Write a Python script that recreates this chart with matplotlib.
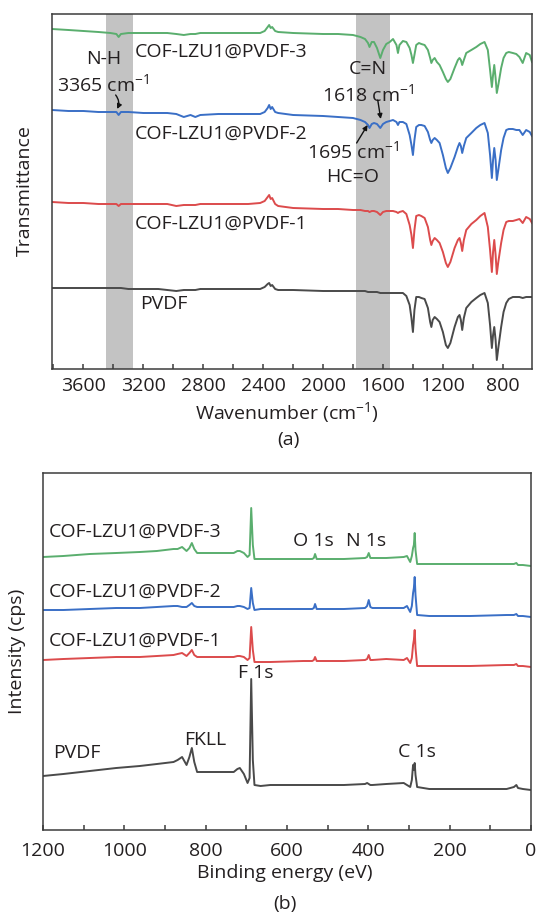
import matplotlib
matplotlib.use("Agg")
import matplotlib.pyplot as plt
from matplotlib.ticker import MultipleLocator

# ---------------- FTIR spectra (panel a) ----------------
wavenumber = [3810, 3700, 3600, 3500, 3420, 3380, 3365, 3350, 3300, 3200, 3100, 3040,
              2980, 2930, 2885, 2853, 2820, 2700, 2500, 2420,
              2390, 2370, 2360, 2350, 2340, 2320, 2300,
              2200, 2000, 1900, 1800, 1750, 1720, 1700, 1690,
              1675, 1660, 1640, 1618, 1600, 1578, 1555, 1533, 1510, 1500,
              1490, 1467, 1444, 1422, 1410, 1400, 1390, 1378, 1360, 1344,
              1322, 1300, 1285, 1277, 1268, 1255, 1240, 1222, 1200, 1180,
              1167, 1150, 1122, 1100, 1089, 1080, 1071, 1060, 1044, 1010,
              977, 950, 922, 900, 885, 873, 865, 857, 848, 840,
              830, 811, 795, 777, 760, 733, 710, 689, 667, 644, 620, 605]

ftir_pvdf3 = [340, 339, 338, 337, 336, 335, 332, 335, 336, 336, 336, 336,
              335, 334, 335, 335, 336, 336, 336, 336,
              338, 342, 344, 341, 342, 338, 337,
              336, 335, 335, 334, 332, 330, 326, 322,
              327, 327, 321, 311, 319, 325, 327, 330, 324, 316,
              324, 328, 327, 321, 314, 306, 314, 324, 326, 325,
              324, 319, 311, 306, 309, 311, 307, 304, 297, 290,
              287, 290, 301, 309, 311, 309, 304, 309, 316, 319,
              322, 325, 327, 319, 299, 282, 294, 304, 291, 276,
              284, 301, 311, 316, 317, 316, 315, 312, 306, 316, 314, 307]

ftir_pvdf2 = [259, 258, 258, 257, 257, 257, 254, 257, 257, 256, 256, 256,
              255, 252, 254, 252, 254, 255, 255, 255,
              257, 261, 264, 260, 262, 257, 256,
              254, 253, 252, 251, 249, 247, 244, 241,
              245, 246, 245, 241, 245, 247, 248, 249, 247, 244,
              247, 247, 245, 234, 224, 214, 229, 242, 244, 244,
              243, 237, 229, 226, 229, 231, 229, 226, 214, 201,
              196, 201, 212, 222, 226, 223, 216, 223, 231, 236,
              241, 244, 246, 236, 214, 191, 209, 221, 209, 189,
              199, 219, 231, 239, 240, 240, 239, 239, 234, 239, 237, 233]

ftir_pvdf1 = [167, 166, 166, 165, 165, 165, 163, 165, 165, 165, 165, 165,
              163, 164, 164, 164, 165, 165, 165, 166,
              168, 172, 174, 170, 171, 165, 163,
              161, 160, 160, 159, 159, 158, 158, 157,
              158, 158, 157, 154, 157, 158, 158, 158, 157, 156,
              157, 158, 155, 144, 134, 121, 139, 153, 154, 153,
              151, 142, 129, 124, 128, 131, 129, 126, 117, 106,
              102, 107, 121, 129, 131, 126, 118, 129, 139, 145,
              149, 153, 156, 142, 119, 97, 117, 129, 114, 95,
              107, 126, 139, 147, 148, 148, 149, 150, 146, 152, 150, 146]

ftir_pvdf = [81, 81, 81, 81, 81, 81, 81, 81, 80, 80, 80, 79,
             78, 79, 79, 79, 80, 80, 80, 80,
             82, 85, 86, 83, 84, 80, 79,
             79, 78, 78, 78, 78, 78, 77, 77,
             77, 77, 77, 76, 76, 76, 76, 76, 76, 76,
             76, 76, 73, 64, 51, 37, 59, 72, 72, 71,
             70, 61, 47, 42, 49, 52, 50, 47, 37, 24,
             21, 26, 42, 52, 54, 49, 39, 51, 61, 67,
             71, 74, 76, 66, 44, 21, 34, 42, 29, 9,
             21, 42, 57, 66, 70, 72, 72, 72, 71, 72, 72, 72]

# shaded absorption bands (cm-1)
nh_band = (3450, 3270)
cn_band = (1780, 1555)

# ---------------- XPS survey spectra (panel b) ----------------
binding_energy = [1200, 1150, 1085, 1020, 962, 920, 879, 869, 858, 847,
                  840, 834, 828, 821, 800, 760, 731, 722, 716, 706,
                  697, 692, 688, 684, 680, 665, 641, 560, 538, 534,
                  531, 527, 522, 460, 408, 403, 399, 395, 390, 356,
                  313, 305, 297, 293, 290, 288, 286, 284, 280, 250,
                  150, 60, 42, 36, 32, 20, 0]

xps_pvdf3 = [273, 274, 276, 277, 278, 279, 281, 281, 283, 279,
             282, 287, 281, 277, 277, 277, 277, 279, 279, 277,
             273, 275, 322, 285, 271, 271, 271, 271, 271, 272,
             276, 271, 271, 271, 272, 273, 277, 272, 272, 272,
             273, 274, 268, 274, 282, 285, 297, 280, 266, 266,
             266, 266, 266, 267, 265, 265, 264]

xps_pvdf2 = [220, 220, 221, 222, 222, 223, 224, 224, 223, 223,
             225, 227, 224, 223, 223, 223, 223, 224, 224, 223,
             221, 222, 242, 227, 220, 221, 221, 221, 221, 222,
             226, 221, 221, 221, 222, 224, 230, 223, 222, 222,
             222, 224, 218, 224, 237, 242, 253, 235, 215, 214,
             214, 215, 215, 216, 214, 214, 213]

xps_pvdf1 = [170, 171, 172, 173, 173, 174, 175, 176, 177, 174,
             177, 180, 175, 173, 173, 173, 173, 174, 174, 173,
             170, 172, 203, 180, 168, 168, 168, 169, 169, 170,
             173, 169, 169, 169, 170, 171, 175, 170, 170, 171,
             170, 172, 167, 172, 185, 190, 200, 182, 164, 164,
             164, 165, 165, 166, 164, 164, 163]

xps_pvdf = [54, 56, 59, 62, 64, 66, 68, 70, 73, 65,
            73, 82, 68, 58, 58, 58, 58, 61, 62, 56,
            47, 52, 151, 70, 45, 44, 45, 45, 45, 45,
            45, 45, 45, 45, 46, 47, 46, 45, 45, 46,
            47, 45, 43, 50, 65, 60, 67, 55, 43, 41,
            41, 41, 43, 45, 42, 41, 40]

sample_labels = ["COF-LZU1@PVDF-3", "COF-LZU1@PVDF-2", "COF-LZU1@PVDF-1", "PVDF"]
colors = ["#5aae6e", "#3a6fc6", "#dc4b4c", "#4a4a4a"]

TEXT = "#231f20"
FRAME = "#3c3c3c"
FS = 14

plt.rcParams["font.family"] = ["Open Sans", "DejaVu Sans"]
plt.rcParams["mathtext.fontset"] = "custom"
plt.rcParams["mathtext.rm"] = "Open Sans"
plt.rcParams["mathtext.it"] = "Open Sans"
plt.rcParams["text.color"] = TEXT

W, H = 537, 913
fig = plt.figure(figsize=(W / 100, H / 100), dpi=100)


def frac(x0, y0, x1, y1):
    return [x0 / W, 1 - y1 / H, (x1 - x0) / W, (y1 - y0) / H]


def style_axes(ax, pad):
    for s in ax.spines.values():
        s.set_color(FRAME)
        s.set_linewidth(1.1)
    ax.set_yticks([])
    ax.tick_params(axis="x", which="both", direction="in", length=3.8, width=1.1,
                   color=FRAME, labelsize=FS, labelcolor=TEXT, pad=pad)


# ---------------- panel a ----------------
ax1 = fig.add_axes(frac(52, 14, 532, 369))
ax1.axvspan(*nh_band, color="#c3c3c3", lw=0, zorder=0)
ax1.axvspan(*cn_band, color="#c3c3c3", lw=0, zorder=0)
for ys, c in zip([ftir_pvdf3, ftir_pvdf2, ftir_pvdf1, ftir_pvdf], colors):
    ax1.plot(wavenumber, ys, color=c, lw=1.4, zorder=2)
ax1.set_xlim(3810, 605)
ax1.set_ylim(0, 355)
ax1.xaxis.set_major_locator(MultipleLocator(400))
ax1.xaxis.set_minor_locator(MultipleLocator(200))
style_axes(ax1, 6)

for lab, (x, y) in zip(sample_labels, [(3255, 317), (3255, 235), (3255, 145), (3222, 65)]):
    ax1.text(x, y, lab, fontsize=FS, ha="left", va="center")

ax1.text(3465, 310, "N-H", fontsize=FS, ha="center", va="center")
ax1.text(3468, 284.5, r"3365 cm$^{-1}$", fontsize=FS, ha="center", va="center")
ax1.text(1700, 300, "C=N", fontsize=FS, ha="center", va="center")
ax1.text(1700, 275, r"1618 cm$^{-1}$", fontsize=FS, ha="center", va="center")
ax1.text(1800, 217.5, r"1695 cm$^{-1}$", fontsize=FS, ha="center", va="center")
ax1.text(1800, 192, "HC=O", fontsize=FS, ha="center", va="center")

arrow = dict(arrowstyle="-|>", color="#111111", lw=1.0, mutation_scale=7,
             shrinkA=0, shrinkB=0)
ax1.annotate("", xy=(3375, 260), xytext=(3385, 274),
             arrowprops=dict(arrow, connectionstyle="arc3,rad=-0.3"))
ax1.annotate("", xy=(1615, 250), xytext=(1635, 269), arrowprops=arrow)
ax1.annotate("", xy=(1703, 244), xytext=(1776, 226), arrowprops=arrow)

fig.text(287 / W, 1 - 413 / H, r"Wavenumber (cm$^{-1}$)", fontsize=FS,
         ha="center", va="center")
fig.text(25 / W, 1 - 191 / H, "Transmittance", fontsize=FS, rotation=90,
         ha="center", va="center")
fig.text(288 / W, 1 - 440 / H, "(a)", fontsize=FS, ha="center", va="center")

# ---------------- panel b ----------------
ax2 = fig.add_axes(frac(43, 473, 531, 830))
for ys, c in zip([xps_pvdf3, xps_pvdf2, xps_pvdf1, xps_pvdf], colors):
    ax2.plot(binding_energy, ys, color=c, lw=1.4)
ax2.set_xlim(1200, 0)
ax2.set_ylim(0, 357)
ax2.xaxis.set_major_locator(MultipleLocator(200))
ax2.xaxis.set_minor_locator(MultipleLocator(100))
style_axes(ax2, 8.5)

for lab, y in zip(sample_labels[:3], [298.7, 238.7, 189.3]):
    ax2.text(1186.5, y, lab, fontsize=FS, ha="left", va="center")
ax2.text(1174, 76.7, "PVDF", fontsize=FS, ha="left", va="center")
ax2.text(534.5, 289, "O 1s", fontsize=FS, ha="center", va="center")
ax2.text(405, 289, "N 1s", fontsize=FS, ha="center", va="center")
ax2.text(678, 156.7, "F 1s", fontsize=FS, ha="center", va="center")
ax2.text(801.6, 90.3, "FKLL", fontsize=FS, ha="center", va="center")
ax2.text(280, 78.3, "C 1s", fontsize=FS, ha="center", va="center")

fig.text(285 / W, 1 - 873 / H, "Binding energy (eV)", fontsize=FS,
         ha="center", va="center")
fig.text(17.5 / W, 1 - 651 / H, "Intensity (cps)", fontsize=FS, rotation=90,
         ha="center", va="center")
fig.text(285 / W, 1 - 904 / H, "(b)", fontsize=FS, ha="center", va="center")

fig.savefig("out.png", dpi=100)
